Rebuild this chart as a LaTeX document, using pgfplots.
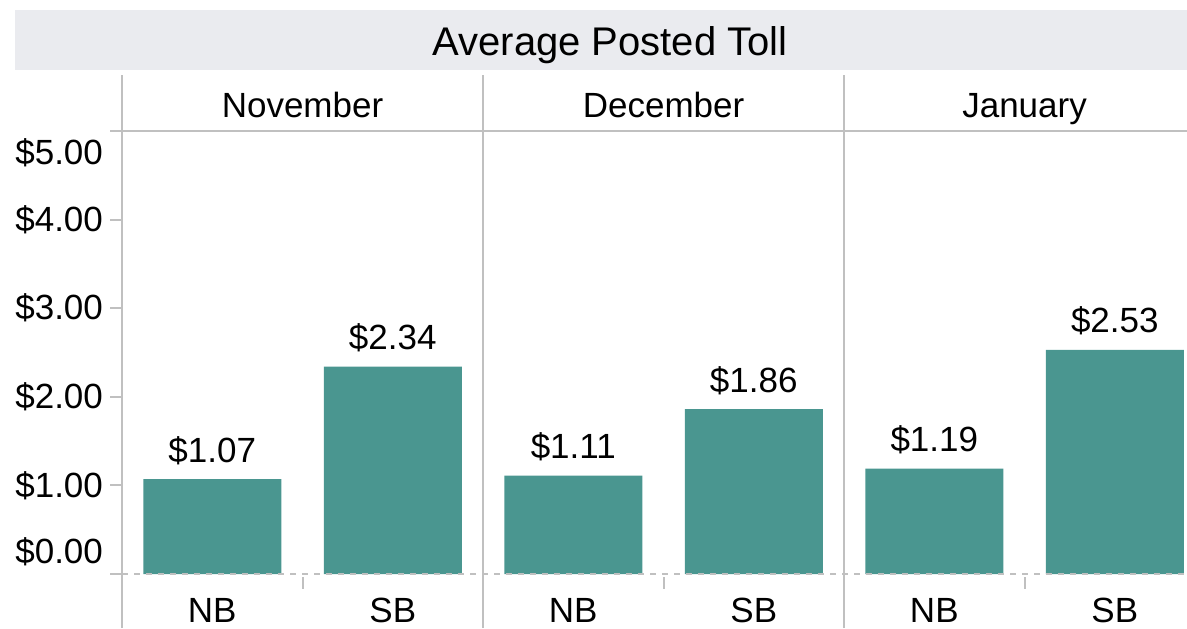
\documentclass[border=0pt]{standalone}
\usepackage{pgfplots}
\pgfplotsset{compat=1.18}
\usepackage{fontspec}
\setmainfont{Liberation Sans}
\definecolor{barc}{RGB}{74,150,144}
\definecolor{sep}{RGB}{192,192,192}
\definecolor{band}{RGB}{234,235,239}
\newcommand{\lbl}{\fontsize{17.5}{21}\selectfont}
\begin{document}
\begin{tikzpicture}
\useasboundingbox (0,0) rectangle (593.5pt,314pt);
\fill[band] (7.5pt,279pt) rectangle (593.5pt,309pt);
\node[anchor=base, font=\fontsize{20}{24}\selectfont, inner sep=0pt] at (305pt,286pt) {Average Posted Toll};
\begin{axis}[
  at={(61pt,27pt)}, anchor=south west,
  width=532.5pt, height=221.5pt, scale only axis,
  xmin=-0.5, xmax=5.4, ymin=0, ymax=5,
  axis line style={draw=none},
  clip=false,
  ybar, bar width=69pt,
  xtick={0,...,5}, xticklabels={NB,SB,NB,SB,NB,SB},
  x tick style={draw=none},
  xticklabel style={anchor=base, inner sep=0pt, yshift=-18pt},
  ytick={1,2,3,4}, yticklabels={\$1.00,\$2.00,\$3.00,\$4.00},
  extra y ticks={0}, extra y tick labels={\$0.00},
  extra y tick style={yticklabel style={yshift=11pt}},
  y tick style={sep, line width=1pt},
  tick align=outside, major tick length=6pt,
  ticklabel style={font=\lbl},
  nodes near coords, point meta=explicit symbolic,
  every node near coord/.append style={font=\lbl, black, anchor=base, inner sep=0pt, yshift=8.5pt},
]
\addplot[fill=barc, draw=none] coordinates {
  (0,1.07) [\$1.07]
  (1,2.34) [\$2.34]
  (2,1.11) [\$1.11]
  (3,1.86) [\$1.86]
  (4,1.19) [\$1.19]
  (5,2.53) [\$2.53]
};
% panel separators
\draw[sep, line width=1pt] (axis cs:-0.5,-0.61) -- (axis cs:-0.5,5.63);
\draw[sep, line width=1pt] (axis cs:1.5,-0.61) -- (axis cs:1.5,5.63);
\draw[sep, line width=1pt] (axis cs:3.5,-0.61) -- (axis cs:3.5,5.63);
% top line and $5 tick
\draw[sep, line width=1pt] ([xshift=-6pt]axis cs:-0.5,5) -- (axis cs:5.4,5);
\node[anchor=east, font=\lbl] at (axis cs:-0.5,5) [xshift=-6pt, yshift=-11pt] {\$5.00};
% baseline
\draw[sep, dashed, line width=0.75pt] (axis cs:-0.5,0) -- (axis cs:5.4,0);
% small ticks between NB and SB
\draw[sep, line width=1pt] ([yshift=-1.5pt]axis cs:0.5,0) -- ([yshift=-7.5pt]axis cs:0.5,0);
\draw[sep, line width=1pt] ([yshift=-1.5pt]axis cs:2.5,0) -- ([yshift=-7.5pt]axis cs:2.5,0);
\draw[sep, line width=1pt] ([yshift=-1.5pt]axis cs:4.5,0) -- ([yshift=-7.5pt]axis cs:4.5,0);
% month headers
\node[anchor=base, font=\lbl, inner sep=0pt] at (axis cs:0.5,5.158) {November};
\node[anchor=base, font=\lbl, inner sep=0pt] at (axis cs:2.5,5.158) {December};
\node[anchor=base, font=\lbl, inner sep=0pt] at (axis cs:4.5,5.158) {January};
\end{axis}
\end{tikzpicture}
\end{document}
